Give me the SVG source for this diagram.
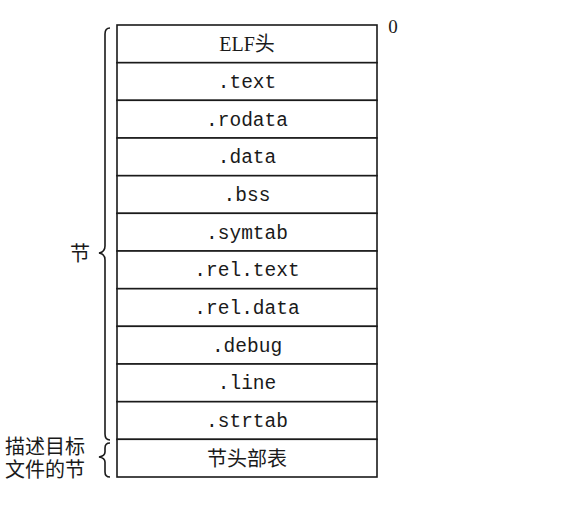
<svg xmlns="http://www.w3.org/2000/svg" width="562" height="507" viewBox="0 0 562 507">
<style>
.cell{fill:#fff;stroke:#1a1a1a;stroke-width:1.6}
.mono{font-family:"Liberation Mono","DejaVu Sans Mono",monospace;font-size:19.5px;fill:#1a1a1a;text-anchor:middle}
.cjk{font-family:"Liberation Serif","Noto Sans CJK SC",serif;font-size:20px;fill:#1a1a1a}
.brace{fill:none;stroke:#1a1a1a;stroke-width:1.6}
</style>
<rect width="562" height="507" fill="#fff"/>
<g id="sections">
<g id="elf"><rect class="cell" x="117" y="25" width="260" height="37.7"/><text class="cjk" x="247" y="51" text-anchor="middle">ELF头</text></g>
<g id="text"><rect class="cell" x="117" y="62.7" width="260" height="37.7"/><text class="mono" x="247" y="88">.text</text></g>
<g id="rodata"><rect class="cell" x="117" y="100.3" width="260" height="37.7"/><text class="mono" x="247" y="126">.rodata</text></g>
<g id="data"><rect class="cell" x="117" y="138" width="260" height="37.7"/><text class="mono" x="247" y="163">.data</text></g>
<g id="bss"><rect class="cell" x="117" y="175.7" width="260" height="37.7"/><text class="mono" x="247" y="201">.bss</text></g>
<g id="symtab"><rect class="cell" x="117" y="213.3" width="260" height="37.7"/><text class="mono" x="247" y="239">.symtab</text></g>
<g id="reltext"><rect class="cell" x="117" y="251" width="260" height="37.7"/><text class="mono" x="247" y="276">.rel.text</text></g>
<g id="reldata"><rect class="cell" x="117" y="288.7" width="260" height="37.7"/><text class="mono" x="247" y="314">.rel.data</text></g>
<g id="debug"><rect class="cell" x="117" y="326.3" width="260" height="37.7"/><text class="mono" x="247" y="352">.debug</text></g>
<g id="line"><rect class="cell" x="117" y="364" width="260" height="37.7"/><text class="mono" x="247" y="389">.line</text></g>
<g id="strtab"><rect class="cell" x="117" y="401.7" width="260" height="37.7"/><text class="mono" x="247" y="427">.strtab</text></g>
<g id="shtable"><rect class="cell" x="117" y="439.3" width="260" height="37.7"/><text class="cjk" x="247" y="466" text-anchor="middle">节头部表</text></g>
</g>
<g id="offset"><text x="393" y="33" font-family="Liberation Serif,serif" font-size="19" fill="#1a1a1a" text-anchor="middle">0</text></g>
<g id="connectors">
<path class="brace" d="M110,28 Q105,28 105,34 L105,246 Q105,252 99,253 Q105,254 105,260 L105,434 Q105,440 110,440"/>
<path class="brace" d="M110,443 Q105,443 105,448 L105,452 Q105,456 99,457 Q105,458 105,462 L105,472 Q105,477 110,477"/>
</g>
<g id="labels">
<text class="cjk" x="70" y="261">节</text>
<text class="cjk" x="5" y="454">描述目标</text>
<text class="cjk" x="5" y="477">文件的节</text>
</g>
</svg>
